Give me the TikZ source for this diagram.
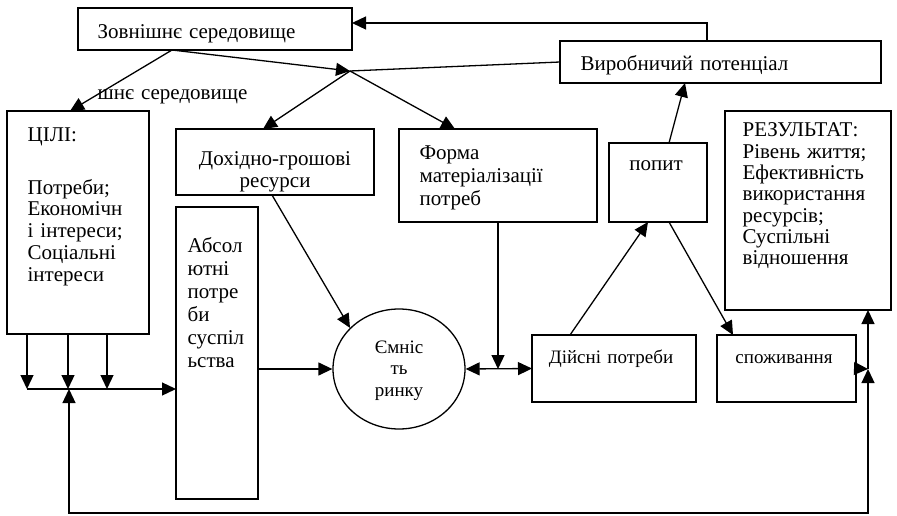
\documentclass[tikz,border=0pt]{standalone}
\usepackage{fontspec}
\setmainfont{Liberation Serif}
\usetikzlibrary{arrows.meta,shapes.geometric}
% rectangle node given by its corners: name, x1, y1, x2, y2
\newcommand\mkbox[5]{\node[box, minimum width={(#4)-(#2)}, minimum height={(#5)-(#3)}] (#1) at (#2,#3) {};}
\begin{document}
\begin{tikzpicture}[x=1pt,y=-1pt,
  line width=1.3pt,
  box/.style={draw, inner sep=0pt, outer sep=0pt, anchor=north west},
  lead/.style={font=\fontsize{21}{#1}\selectfont},
  slead/.style={font=\fontsize{19}{#1}\selectfont},
  txt/.style={inner sep=0pt, text width=#1, align=left, anchor=base west, lead=22},
  ctxt/.style={inner sep=0pt, text width=#1, align=center, anchor=base, lead=22},
  arr/.style={-{Triangle[length=14pt,width=13pt]}},
  darr/.style={{Triangle[length=14pt,width=13pt]}-{Triangle[length=14pt,width=13pt]}},
]
\useasboundingbox (0,0) rectangle (897,516);

% boxes
\mkbox{zov}{78}{8}{352}{50}
\mkbox{vyr}{560}{41}{881}{83}
\mkbox{cil}{7}{111}{149}{334}
\mkbox{doh}{176}{129}{374}{195}
\mkbox{form}{399}{129}{597}{222}
\mkbox{abs}{176}{207}{258}{499}
\mkbox{popyt}{609}{143}{707}{222}
\mkbox{rez}{725}{111}{891}{310}
\mkbox{dijs}{532}{335}{696}{402}
\mkbox{spoz}{717}{335}{856}{402}
\node[draw, ellipse, inner sep=0pt, minimum width=132, minimum height=120] (cap) at (399,369) {};

% texts
\node[txt=280] (tzov) at (97,39) {Зовнішнє середовище};
\node[txt=300] (tvyr) at (580,71) {Виробничий потенціал};
\node[txt=220] (tstray) at (97,100) {шнє середовище};
\node[txt=125] (tcil1) at (27,142) {ЦІЛІ:};
\node[txt=125, lead=21.8] (tcil2) at (27,194) {Потреби;\\Економічн\\і інтереси;\\Соціальні\\інтереси};
\node[ctxt=195] (tdoh) at (275,165) {Дохідно-грошові\\ресурси};
\node[txt=178, lead=22.8] (tform) at (419,160) {Форма\\матеріалізації\\потреб};
\node[txt=72, lead=23.1] (tabs) at (187,252) {Абсол\\ютні\\потре\\би\\суспіл\\ьства};
\node[ctxt=100, slead=21.5] (tcap) at (399,353) {Ємніс\\ть\\ринку};
\node[ctxt=160, slead=22] (tdijs) at (611,363) {Дійсні потреби};
\node[ctxt=130, slead=22] (tspoz) at (784,363) {споживання};
\node[ctxt=95] (tpop) at (656,171) {попит};
\node[txt=150, lead=21.3] (trez) at (742,137) {РЕЗУЛЬТАТ:\\Рівень життя;\\Ефективність\\використання\\ресурсів;\\Суспільні\\відношення};

% connection points
\coordinate (zovS) at (172,50);
\coordinate (zovE) at (352,23);
\coordinate (J) at (350,71);
\coordinate (vyrN) at (707,41);
\coordinate (vyrS) at (685,83);
\coordinate (cilN) at (70,111);
\coordinate (dohN) at (263,129);
\coordinate (dohS) at (272,195);
\coordinate (formN) at (455,129);
\coordinate (dijsN) at (570,335);
\coordinate (popS1) at (648,222);
\coordinate (popS2) at (669,222);
\coordinate (popN) at (669,143);
\coordinate (spozN) at (733,335);
\coordinate (rezS) at (868,310);
\coordinate (R) at (868,369);
\coordinate (L) at (69,389);
\coordinate (H0) at (27,389);
\coordinate (B) at (0,513);

% connectors
\draw[arr] (vyrN) |- (zovE);
\draw (vyr.west) -- (J);
\draw[arr] (zovS) -- (J);
\draw[arr] (zovS) -- (cilN);
\draw[arr] (J) -- (dohN);
\draw[arr] (J) -- (formN);
\draw[arr] (dohS) -- (cap.140);
\draw[arr] (abs.east |- cap.west) -- (cap.west);
\draw[arr] (form.south) -- (form.south |- cap.east);
\draw[darr] (cap.east) -- (dijs.west);
\draw[arr] (dijsN) -- (popS1);
\draw[arr] (popS2) -- (spozN);
\draw[arr] (popN) -- (vyrS);
\draw[arr] (spoz.east) -- (R);
\draw[arr] (R) -- (rezS);
\draw[darr] (L) -- (L |- B) -| (R);
\foreach \x in {27,68,107} \draw[arr] (cil.south -| \x,0) -- (\x,389);
\draw[arr] (H0) -- (abs.west |- H0);
\end{tikzpicture}
\end{document}
